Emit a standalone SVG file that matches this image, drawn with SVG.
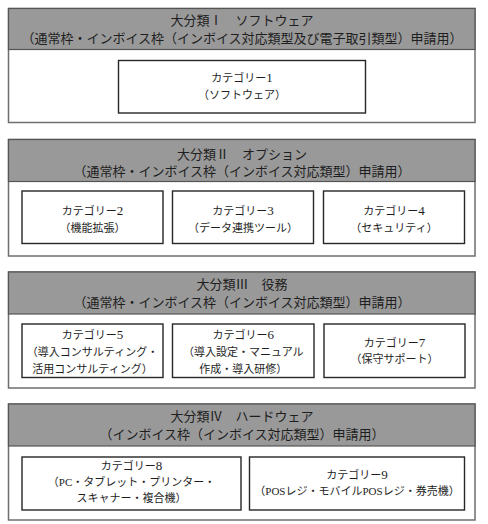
<svg xmlns="http://www.w3.org/2000/svg" width="488" height="524" viewBox="0 0 488 524">
<style>
.sec{fill:#fff;stroke:#6e6e6e;stroke-width:1.5}
.hdr{fill:#999;stroke:#555;stroke-width:1.2}
.cat{fill:#fff;stroke:#262626;stroke-width:1.4}
text{font-family:"Liberation Serif","Noto Sans CJK JP",serif;fill:#1e1e1e;text-anchor:middle}
.h{font-size:13px}
.c{font-size:11px}
.n{font-size:13px}
</style>
<rect width="488" height="524" fill="#fff"/>
<g id="section1">
<rect class="sec" x="8.5" y="8.5" width="466.5" height="114"/>
<rect class="hdr" x="8.5" y="8.5" width="466.5" height="41"/>
<text class="h" x="242" y="25">大分類Ⅰ　ソフトウェア</text>
<text class="h" x="242" y="43">（通常枠・インボイス枠（インボイス対応類型及び電子取引類型）申請用）</text>
</g>
<g id="cat1">
<rect class="cat" x="118.5" y="60.5" width="247" height="52.5"/>
<text class="c" x="242" y="82">カテゴリー<tspan class="n">1</tspan></text>
<text class="c" x="242" y="99">（ソフトウェア）</text>
</g>
<g id="section2">
<rect class="sec" x="8.5" y="139.5" width="466.5" height="116.5"/>
<rect class="hdr" x="8.5" y="139.5" width="466.5" height="42"/>
<text class="h" x="242" y="159">大分類Ⅱ　オプション</text>
<text class="h" x="242" y="176">（通常枠・インボイス枠（インボイス対応類型）申請用）</text>
</g>
<g id="cat2">
<rect class="cat" x="22" y="191" width="141" height="52.5"/>
<text class="c" x="92.5" y="215">カテゴリー<tspan class="n">2</tspan></text>
<text class="c" x="92.5" y="232">（機能拡張）</text>
</g>
<g id="cat3">
<rect class="cat" x="172.5" y="191" width="141" height="52.5"/>
<text class="c" x="243" y="215">カテゴリー<tspan class="n">3</tspan></text>
<text class="c" x="243" y="232">（データ連携ツール）</text>
</g>
<g id="cat4">
<rect class="cat" x="323.5" y="191" width="141" height="52.5"/>
<text class="c" x="394" y="215">カテゴリー<tspan class="n">4</tspan></text>
<text class="c" x="394" y="232">（セキュリティ）</text>
</g>
<g id="section3">
<rect class="sec" x="8.5" y="272" width="466.5" height="116"/>
<rect class="hdr" x="8.5" y="272" width="466.5" height="42"/>
<text class="h" x="242" y="289">大分類Ⅲ　役務</text>
<text class="h" x="242" y="307">（通常枠・インボイス枠（インボイス対応類型）申請用）</text>
</g>
<g id="cat5">
<rect class="cat" x="22" y="324" width="141" height="53.5"/>
<text class="c" x="92.5" y="339">カテゴリー<tspan class="n">5</tspan></text>
<text class="c" x="92.5" y="356">（導入コンサルティング・</text>
<text class="c" x="92.5" y="373">活用コンサルティング）</text>
</g>
<g id="cat6">
<rect class="cat" x="172.5" y="324" width="141.5" height="53.5"/>
<text class="c" x="243.25" y="339">カテゴリー<tspan class="n">6</tspan></text>
<text class="c" x="243.25" y="356">（導入設定・マニュアル</text>
<text class="c" x="243.25" y="373">作成・導入研修）</text>
</g>
<g id="cat7">
<rect class="cat" x="324" y="324" width="141" height="53.5"/>
<text class="c" x="394.5" y="347">カテゴリー<tspan class="n">7</tspan></text>
<text class="c" x="394.5" y="363">（保守サポート）</text>
</g>
<g id="section4">
<rect class="sec" x="8.5" y="404" width="466.5" height="116"/>
<rect class="hdr" x="8.5" y="404" width="466.5" height="42"/>
<text class="h" x="242" y="421">大分類Ⅳ　ハードウェア</text>
<text class="h" x="242" y="439">（インボイス枠（インボイス対応類型）申請用）</text>
</g>
<g id="cat8">
<rect class="cat" x="22" y="457" width="219" height="53"/>
<text class="c" x="131.5" y="470">カテゴリー<tspan class="n">8</tspan></text>
<text class="c" x="131.5" y="486">（PC・タブレット・プリンター・</text>
<text class="c" x="131.5" y="502">スキャナー・複合機）</text>
</g>
<g id="cat9">
<rect class="cat" x="249.5" y="457" width="215" height="53"/>
<text class="c" x="357" y="479">カテゴリー<tspan class="n">9</tspan></text>
<text class="c" x="357" y="495">（POSレジ・モバイルPOSレジ・券売機）</text>
</g>
</svg>
